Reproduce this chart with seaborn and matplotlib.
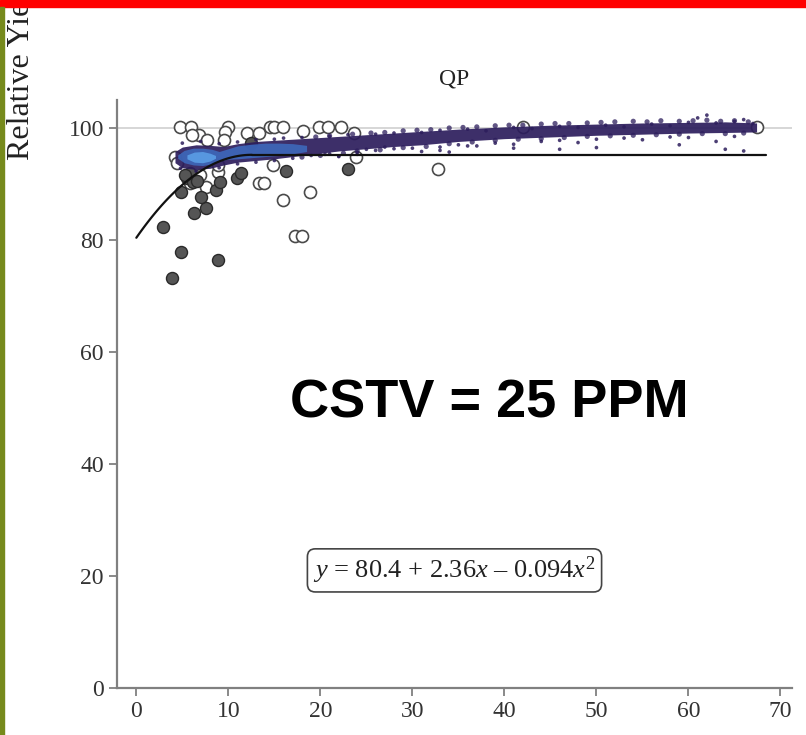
import numpy as np
import matplotlib
matplotlib.use('Agg')
import matplotlib.pyplot as plt
from matplotlib.patches import Rectangle
import seaborn as sns

# open (white) circles
open_x = [4.7, 5.9, 6.8, 6.0, 7.7, 10.0, 9.6, 9.5, 12.0, 13.3, 14.5, 15.0, 15.9, 18.1,
          19.8, 20.8, 22.2, 23.6, 4.2, 4.4, 8.9, 6.9, 7.6, 5.8, 13.3, 13.9, 15.9, 18.9,
          17.2, 18.0, 14.9, 23.9, 32.8, 8.9, 67.4, 42.0]
open_y = [100.1, 100.1, 98.8, 98.8, 97.8, 100.1, 99.3, 97.8, 99.1, 99.1, 100.1, 100.1, 100.1, 99.5,
          100.1, 100.1, 100.1, 99.1, 94.9, 93.7, 92.2, 91.6, 89.5, 90.1, 90.1, 90.1, 87.1, 88.6,
          80.7, 80.7, 93.4, 94.9, 92.7, 93.4, 100.1, 100.2]

# dark filled circles
dark_x = [2.9, 4.9, 3.9, 8.9, 6.3, 7.6, 7.0, 4.9, 8.7, 9.1, 5.5, 10.9, 11.4, 16.3, 23.0,
          6.2, 12.5, 5.8, 5.3, 6.6]
dark_y = [82.4, 77.8, 73.2, 76.4, 84.9, 85.7, 87.7, 88.6, 88.9, 90.4, 91.0, 91.0, 92.0, 92.4, 92.7,
          90.4, 97.3, 92.0, 91.6, 90.6]

# dense cloud of observations (outline of the band)
band_x = [4.2, 5, 6.5, 8, 9.5, 11, 13, 15, 17, 19, 22, 25, 28, 31, 35, 40, 45, 50, 55, 60, 64, 67.4]
band_lo = [93.8, 92.9, 92.6, 92.8, 93.4, 93.9, 94.2, 94.5, 94.9, 95.3, 95.9, 96.3, 96.7, 97.0,
           97.6, 98.1, 98.4, 98.7, 98.9, 99.1, 99.2, 99.3]
band_hi = [95.8, 96.6, 97.0, 96.9, 96.7, 97.2, 97.6, 97.8, 98.0, 98.2, 98.5, 98.8, 99.1, 99.4,
           99.8, 100.2, 100.5, 100.7, 100.9, 101.0, 101.1, 100.9]
core_x = [4.5, 5.2, 6.2, 7.2, 8.2, 9.0, 9.8, 11, 12.5, 14, 15.5, 17, 18.5]
core_lo = [94.6, 93.8, 93.4, 93.3, 93.6, 94.1, 94.4, 94.5, 94.7, 94.9, 95.1, 95.4, 95.8]
core_hi = [95.2, 96.0, 96.4, 96.4, 96.2, 95.8, 96.2, 96.8, 97.1, 97.3, 97.3, 97.2, 96.9]
inner_x = [5.5, 6.3, 7.2, 8.0, 8.6]
inner_lo = [94.5, 93.9, 93.8, 94.1, 94.6]
inner_hi = [95.2, 95.7, 95.8, 95.5, 95.1]

# scattered points around the band
speck_x = [18, 21, 23, 26, 28, 31, 33, 36, 38, 41, 43, 46, 48, 51, 53, 56, 58, 60, 61, 62, 63, 65, 66, 67,
           17, 19, 21, 22, 24, 26, 28, 30, 31, 33, 35, 37, 39, 41, 44, 46, 48, 50, 53, 55, 58, 60, 63, 64, 65, 66,
           20.5, 22, 24, 25, 27, 33, 34, 36, 41, 46, 50, 59,
           5, 7, 9, 11, 13, 15, 16, 4.8, 6.5, 9, 11, 13, 15]
speck_y = [98.3, 98.5, 98.8, 98.9, 99.1, 99.2, 99.6, 99.8, 99.5, 100.1, 99.9, 100.3, 100.1, 100.5, 100.2,
           100.7, 100.4, 101.0, 101.8, 102.3, 100.9, 101.2, 101.5, 100.8,
           94.6, 95.1, 95.4, 94.9, 95.7, 96.0, 96.3, 96.4, 95.8, 96.6, 97.0, 96.8, 97.3, 97.1, 97.6, 97.8,
           97.4, 98.0, 98.2, 97.9, 98.4, 98.3, 97.6, 96.2, 98.5, 95.9,
           95.3, 95.0, 95.3, 96.2, 96.6, 96.0, 95.7, 96.8, 96.4, 96.2, 96.5, 97.0,
           97.3, 97.6, 97.2, 97.5, 97.9, 98.0, 98.2, 92.8, 92.3, 92.9, 93.6, 93.9, 94.2]
edge_x = [19.5, 21, 23.5, 25.5, 27, 29, 30.5, 32, 34, 35.5, 37, 39, 40.5, 42, 44, 45.5, 47, 49,
          50.5, 52, 54, 55.5, 57, 59, 60.5, 62, 63.5, 65, 66.5,
          18, 20, 22.5, 24, 26.5, 29, 31.5, 34, 36.5, 39, 41.5, 44, 46.5, 49, 51.5, 54, 56.5, 59,
          61.5, 64, 66]
edge_y = [98.4, 98.6, 98.9, 99.1, 99.2, 99.5, 99.6, 99.7, 100.0, 100.1, 100.2, 100.4, 100.5, 100.5,
          100.7, 100.8, 100.8, 100.9, 101.0, 101.1, 101.2, 101.1, 101.3, 101.2, 101.3, 101.4, 101.2,
          101.3, 101.1,
          94.8, 95.1, 95.5, 95.9, 96.1, 96.5, 96.7, 97.2, 97.5, 97.8, 98.0, 98.1, 98.3, 98.5, 98.6,
          98.7, 98.8, 98.9, 99.0, 99.0, 99.1]

# quadratic-plateau fit
b0, b1, b2 = 80.4, 2.36, -0.094
x_join = -b1 / (2 * b2)
x_end = 68.4

x_ticks = [0, 10, 20, 30, 40, 50, 60, 70]
y_ticks = [0, 20, 40, 60, 80, 100]

sns.set_theme(style='ticks')
plt.rcParams['font.family'] = ['Liberation Serif', 'DejaVu Serif']
plt.rcParams['mathtext.fontset'] = 'custom'
plt.rcParams['mathtext.rm'] = 'Liberation Serif'
plt.rcParams['mathtext.it'] = 'Liberation Serif:italic'

fig = plt.figure(figsize=(8.06, 7.35), dpi=100)
ax = fig.add_axes([117 / 806, 47 / 735, 675 / 806, 588 / 735])

ax.axhline(100, color='#d0d0d0', lw=1.2, zorder=0)

sns.scatterplot(x=open_x, y=open_y, ax=ax, color='white', edgecolor='#4a4a4a',
                linewidth=1.2, s=75, zorder=2)
sns.scatterplot(x=dark_x, y=dark_y, ax=ax, color='#555555', edgecolor='#2a2a2a',
                linewidth=1.0, s=75, zorder=2)

cloud = '#2c1d5c'
ax.fill_between(band_x, band_lo, band_hi, color=cloud, alpha=0.92, lw=0, zorder=3)
ax.fill_between(core_x, core_lo, core_hi, color='#3d6cc0', alpha=0.85, lw=0, zorder=3)
ax.fill_between(inner_x, inner_lo, inner_hi, color='#5b9ee6', alpha=0.9, lw=0, zorder=3)
sns.scatterplot(x=edge_x, y=edge_y, ax=ax, color=cloud, edgecolor='none',
                s=14, alpha=0.75, zorder=3)
sns.scatterplot(x=speck_x, y=speck_y, ax=ax, color=cloud, edgecolor='none',
                s=7, alpha=0.85, zorder=3)

xc = np.linspace(0, x_join, 60)
ax.plot(xc, b0 + b1 * xc + b2 * xc ** 2, color='#111111', lw=1.6, zorder=4)
y_plat = b0 + b1 * x_join + b2 * x_join ** 2
ax.plot([x_join, x_end], [y_plat, y_plat], color='#111111', lw=1.6, zorder=4)

ax.set_xlim(-2.1, 71.25)
ax.set_ylim(0, 105)
ax.set_xticks(x_ticks)
ax.set_yticks(y_ticks)
ax.tick_params(direction='out', length=6, width=1.3, color='#808080',
               labelsize=17, labelcolor='#333333')
sns.despine(ax=ax)
for side in ['left', 'bottom']:
    ax.spines[side].set_color('#808080')
    ax.spines[side].set_linewidth(1.6)
ax.set_title('QP', fontsize=17, pad=11, color='#222222')

ax.text(0.5, 0.2, r'$y$ = 80.4 + 2.36$x$ – 0.094$x^2$', transform=ax.transAxes,
        ha='center', va='center', fontsize=19, color='#222222',
        bbox=dict(boxstyle='round,pad=0.22,rounding_size=0.3', fc='white', ec='#444444', lw=1.2))

fig.text(489 / 806, 1 - 404 / 735, 'CSTV = 25 PPM', ha='center', va='center',
         fontsize=39, fontweight='bold', family=['Liberation Sans', 'DejaVu Sans'], color='black')

fig.text(22 / 806, 1 - 160 / 735, 'Relative Yield (%)', rotation=90, ha='center',
         va='bottom', fontsize=23, color='#222222')

fig.patches.append(Rectangle((0, 1 - 7 / 735), 1, 7 / 735, transform=fig.transFigure,
                             color='#ff0000', zorder=10))
fig.patches.append(Rectangle((0, 0), 4 / 806, 1 - 7 / 735, transform=fig.transFigure,
                             color='#768a1c', zorder=10))

fig.savefig('out.png', dpi=100)
